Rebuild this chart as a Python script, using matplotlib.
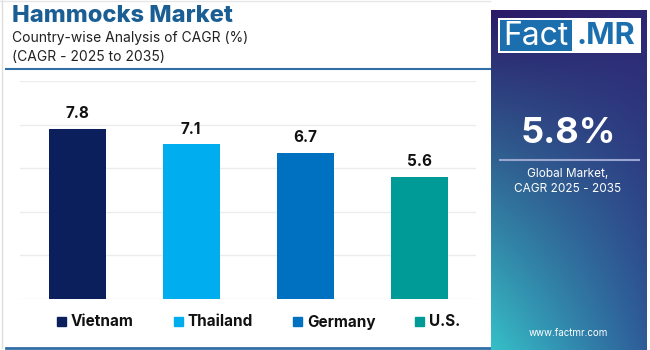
import matplotlib
matplotlib.use("Agg")
import matplotlib.pyplot as plt
import numpy as np
from matplotlib.patches import Rectangle
from matplotlib.colors import to_rgb

plt.rcParams['font.family'] = ['Inter', 'DejaVu Sans']

countries = ["Vietnam", "Thailand", "Germany", "U.S."]
cagr = [7.8, 7.1, 6.7, 5.6]
colors = ["#0a1f5c", "#00aeef", "#0070c0", "#009a97"]
yticks = [0, 2, 4, 6, 8, 10]
global_cagr = "5.8%"

W, H = 650, 350
fig = plt.figure(figsize=(6.5, 3.5), dpi=100)
fig.patch.set_facecolor("white")

def fx(px): return px / W
def fy(py): return 1 - py / H

# Header
fig.text(fx(12), fy(16), "Hammocks Market", fontsize=17, fontweight="heavy",
         color="#1a5e94", va="center", ha="left")
fig.text(fx(12), fy(38), "Country-wise Analysis of CAGR (%)", fontsize=10,
         color="#222222", va="center", ha="left")
fig.text(fx(12), fy(57), "(CAGR - 2025 to 2035)", fontsize=10,
         color="#222222", va="center", ha="left")

# header/footer lines
lax = fig.add_axes([0, 0, 1, 1], zorder=-1)
lax.set_xlim(0, W); lax.set_ylim(H, 0); lax.axis("off")
lax.plot([6, 490], [68.5, 68.5], color="#2f6fa6", lw=1.5)
lax.plot([6, 490], [348, 348], color="#2f6fa6", lw=2)
lax.plot([1.5, 1.5], [0, 348], color="#dddddd", lw=1)
lax.plot([0, 490], [1, 1], color="#e6e6e6", lw=1)

# Bar axes
ax = fig.add_axes([fx(20), fy(299), fx(476 - 20), (299 - 81) / H])
x = np.arange(len(countries))
ax.bar(x, cagr, width=0.5, color=colors, zorder=3)
ax.set_xlim(-0.5, 3.5)
ax.set_ylim(0, 10)
ax.set_yticks(yticks)
ax.yaxis.grid(True, color="#ececec", lw=1, zorder=0)
ax.tick_params(left=False, bottom=False, labelleft=False, labelbottom=False)
for s in ax.spines.values():
    s.set_visible(False)
for xi, v in zip(x, cagr):
    ax.text(xi, v + 0.35, f"{v}", ha="center", va="bottom", fontsize=11,
            fontweight="bold", color="#111111")

# Legend
leg_sq = [57, 174, 293, 415]
for px, c, name in zip(leg_sq, colors, countries):
    lax.add_patch(Rectangle((px, 317), 9, 9, color=c))
    lax.text(px + 14, 322, name, fontsize=11, fontweight="bold",
             color="#111111", va="center", ha="left")

# Right panel gradient
pax = fig.add_axes([fx(491), fy(350), fx(647 - 491), (350 - 10) / H])
tl, tr = np.array(to_rgb("#2b1a68")), np.array(to_rgb("#2d2672"))
bl, br = np.array(to_rgb("#36c0c8")), np.array(to_rgb("#2e5c98"))
ny, nx = 200, 100
yy, xx = np.mgrid[0:1:ny * 1j, 0:1:nx * 1j]
img = (tl[None, None, :] * ((1 - yy) * (1 - xx))[..., None]
       + tr[None, None, :] * ((1 - yy) * xx)[..., None]
       + bl[None, None, :] * (yy * (1 - xx))[..., None]
       + br[None, None, :] * (yy * xx)[..., None])
pax.imshow(img, aspect="auto", extent=[491, 647, 350, 10], interpolation="bilinear")
pax.set_xlim(491, 647); pax.set_ylim(350, 10)
pax.axis("off")

# Logo
pax.add_patch(Rectangle((498, 18), 143, 35, facecolor="white", edgecolor="none"))
pax.add_patch(Rectangle((500, 20), 72, 31, facecolor="#1b6fae", edgecolor="none"))
pax.text(536, 36, "Fact", fontsize=23, color="white", ha="center", va="center")
pax.text(606, 36, ".MR", fontsize=22, color="#1b6fae", fontweight="bold",
         ha="center", va="center")

pax.text(568, 133, global_cagr, fontsize=26, fontweight="bold", color="white",
         ha="center", va="center")
pax.plot([500, 639], [160, 160], color="#9aa6d0", lw=1.5)
pax.text(568, 174, "Global Market,", fontsize=8.5, color="white", ha="center", va="center")
pax.text(568, 189, "CAGR 2025 - 2035", fontsize=8.5, color="white", ha="center", va="center")
pax.text(568, 333, "www.factmr.com", fontsize=7, color="white", ha="center", va="center")

fig.savefig("out.png", dpi=100, facecolor="white")
